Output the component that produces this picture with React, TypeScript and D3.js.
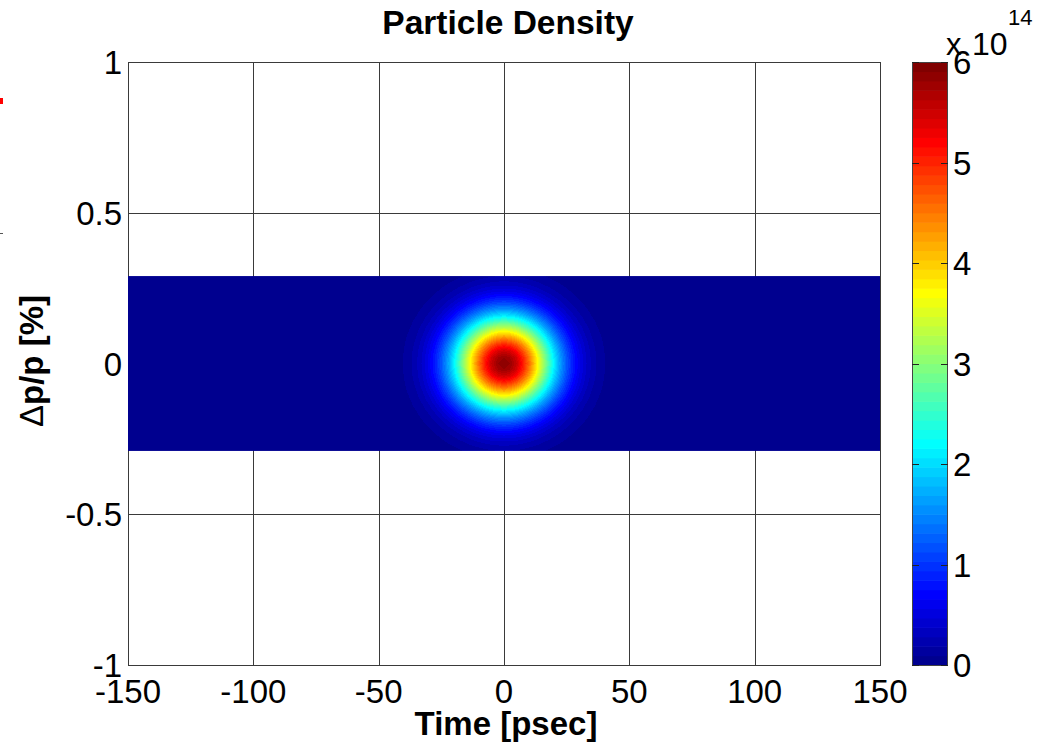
import React, { useMemo } from "react";
import * as d3 from "d3";

// ---- Data ----
const timeTicks = [-150, -100, -50, 0, 50, 100, 150];
const dpTicks = [-1, -0.5, 0, 0.5, 1];
const dpTickLabels = ["-1", "-0.5", "0", "0.5", "1"];
const cbarTicks = [0, 1, 2, 3, 4, 5, 6];
const timeDomain = [-150, 150];
const dpDomain = [-1, 1];
const cbarDomain = [0, 6]; // x 10^14
const bandDp = [-0.29, 0.29]; // momentum extent of computed grid [%]
const peakDensity = 5.9; // x 10^14

// longitudinal profile (normalized) vs |time| [psec]
const timeGrid = [0, 2.5, 5, 7.5, 10, 12.5, 15, 17.5, 20, 22.5, 25, 27.5, 30, 32.5, 35, 37.5, 40, 45, 50, 60, 150];
const timeProfile = [1, 0.984, 0.938, 0.866, 0.775, 0.671, 0.563, 0.458, 0.36, 0.275, 0.203, 0.145, 0.101, 0.0676, 0.0439, 0.0277, 0.0169, 0.0057, 0.0017, 0.0001, 0];

// momentum profile (normalized) vs |dp/p| [%]
const dpGrid = [0, 0.02, 0.04, 0.06, 0.08, 0.1, 0.12, 0.14, 0.16, 0.18, 0.2, 0.22, 0.24, 0.26, 0.28, 0.3];
const dpProfile = [1, 0.984, 0.936, 0.862, 0.768, 0.662, 0.552, 0.445, 0.347, 0.262, 0.191, 0.135, 0.0926, 0.0612, 0.0392, 0.0243];

// ---- MATLAB jet(64) colormap ----
function jet64(): string[] {
  const m = 64;
  const n = 16;
  const u: number[] = [];
  for (let j = 1; j <= n; j++) u.push(j / n);
  for (let j = 1; j <= n - 1; j++) u.push(1);
  for (let j = n; j >= 1; j--) u.push(j / n);
  const J = Array.from({ length: m }, () => [0, 0, 0]);
  const g0 = Math.ceil(n / 2) - (m % 4 === 1 ? 1 : 0);
  for (let k = 0; k < u.length; k++) {
    const g = g0 + k + 1;
    const r = g + n;
    const b = g - n;
    if (g >= 1 && g <= m) J[g - 1][1] = u[k];
    if (r >= 1 && r <= m) J[r - 1][0] = u[k];
    if (b >= 1 && b <= m) J[b - 1][2] = u[k];
  }
  return J.map(([r, g, b]) => d3.rgb(r * 255, g * 255, b * 255).formatHex());
}
const JET = jet64();

const W = 1039;
const H = 746;
const L = 128, R = 880, T = 62, B = 665;
const CB_L = 912, CB_R = 948;

export default function App() {
  const x = d3.scaleLinear().domain(timeDomain).range([L, R]);
  const y = d3.scaleLinear().domain(dpDomain).range([B, T]);
  const c = d3.scaleLinear().domain(cbarDomain).range([B, T]);
  const tp = d3.scaleLinear().domain(timeGrid).range(timeProfile).clamp(true);
  const pp = d3.scaleLinear().domain(dpGrid).range(dpProfile).clamp(true);
  const colorIdx = d3.scaleQuantize<number>().domain(cbarDomain).range(d3.range(64));

  const bandTop = y(bandDp[1]);
  const bandBot = y(bandDp[0]);

  const img = useMemo(() => {
    const cw = Math.round(R - L);
    const ch = Math.round(bandBot - bandTop);
    const canvas = document.createElement("canvas");
    canvas.width = cw;
    canvas.height = ch;
    const ctx = canvas.getContext("2d");
    if (!ctx) return "";
    const data = ctx.createImageData(cw, ch);
    const rgbs = JET.map((h) => d3.rgb(h));
    for (let j = 0; j < ch; j++) {
      const p = y.invert(bandTop + ((j + 0.5) / ch) * (bandBot - bandTop));
      const pv = pp(Math.abs(p));
      for (let i = 0; i < cw; i++) {
        const t = x.invert(L + ((i + 0.5) / cw) * (R - L));
        const v = peakDensity * tp(Math.abs(t)) * pv;
        const col = rgbs[Math.max(0, Math.min(63, colorIdx(v)))];
        const o = (j * cw + i) * 4;
        data.data[o] = col.r;
        data.data[o + 1] = col.g;
        data.data[o + 2] = col.b;
        data.data[o + 3] = 255;
      }
    }
    ctx.putImageData(data, 0, 0);
    return canvas.toDataURL();
  }, []);

  const font = "'Liberation Sans', Arial, sans-serif";
  const gridColor = "#3a3a3a";

  return (
    <svg width={W} height={H} style={{ position: "absolute", left: 0, top: 0, background: "#fff" }} fontFamily={font}>
      <rect x={0} y={0} width={W} height={H} fill="#fff" />
      {/* crop remnants at left edge */}
      <rect x={0} y={98} width={3} height={6} fill="#ff0000" />
      <line x1={0} x2={3} y1={233.5} y2={233.5} stroke="#555" strokeWidth={1} />

      {/* grid */}
      {timeTicks.map((t) => (
        <line key={"gx" + t} x1={Math.round(x(t)) + 0.5} x2={Math.round(x(t)) + 0.5} y1={T} y2={B} stroke={gridColor} strokeWidth={1} />
      ))}
      {dpTicks.map((p) => (
        <line key={"gy" + p} x1={L} x2={R} y1={Math.round(y(p)) + 0.5} y2={Math.round(y(p)) + 0.5} stroke={gridColor} strokeWidth={1} />
      ))}
      <rect x={L + 0.5} y={T + 0.5} width={R - L} height={B - T} fill="none" stroke={gridColor} strokeWidth={1} />

      {/* heatmap */}
      <image href={img} x={L} y={bandTop} width={R - L} height={bandBot - bandTop} preserveAspectRatio="none" style={{ imageRendering: "pixelated" }} />

      {/* x tick labels */}
      {timeTicks.map((t) => (
        <text key={"tx" + t} x={x(t)} y={703} fontSize={33} textAnchor="middle" fill="#000">{t}</text>
      ))}
      {/* y tick labels */}
      {dpTicks.map((p, i) => (
        <text key={"ty" + p} x={122} y={y(p) + 12} fontSize={33} textAnchor="end" fill="#000">{dpTickLabels[i]}</text>
      ))}

      {/* titles */}
      <text x={508} y={34} fontSize={33.5} fontWeight="bold" textAnchor="middle" fill="#000">Particle Density</text>
      <text x={506} y={735} fontSize={33} fontWeight="bold" textAnchor="middle" fill="#000">Time [psec]</text>
      <text transform="translate(43,361) rotate(-90)" fontSize={33} fontWeight="bold" textAnchor="middle" fill="#000">
        <tspan fontWeight="normal">Δ</tspan>p/p [%]
      </text>

      {/* colorbar */}
      {JET.map((col, k) => {
        const v0 = cbarDomain[0] + (k * (cbarDomain[1] - cbarDomain[0])) / 64;
        const v1 = cbarDomain[0] + ((k + 1) * (cbarDomain[1] - cbarDomain[0])) / 64;
        return <rect key={"cb" + k} x={CB_L} y={c(v1)} width={CB_R - CB_L} height={c(v0) - c(v1) + 0.6} fill={col} />;
      })}
      <rect x={CB_L + 0.5} y={T + 0.5} width={CB_R - CB_L - 1} height={B - T} fill="none" stroke="#444" strokeWidth={1} />
      {cbarTicks.map((v) => (
        <g key={"ct" + v}>
          <line x1={CB_R - 7} x2={CB_R} y1={Math.round(c(v)) + 0.5} y2={Math.round(c(v)) + 0.5} stroke="#222" strokeWidth={1} />
          <line x1={CB_L} x2={CB_L + 7} y1={Math.round(c(v)) + 0.5} y2={Math.round(c(v)) + 0.5} stroke="#222" strokeWidth={1} />
          <text x={953} y={c(v) + 12} fontSize={33} fill="#000">{v}</text>
        </g>
      ))}
      <text x={946} y={55} fontSize={31} fill="#000">x</text>
      <text x={972} y={55} fontSize={32} fill="#000">10</text>
      <text x={1008} y={25} fontSize={22} fill="#000">14</text>
    </svg>
  );
}
